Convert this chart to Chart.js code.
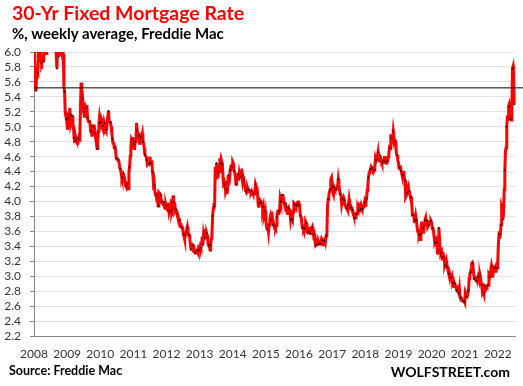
<!DOCTYPE html>
<html>
<head>
<meta charset="utf-8">
<script src="https://cdn.jsdelivr.net/npm/chart.js@4.4.0/dist/chart.umd.min.js"></script>
<style>
  html, body { margin: 0; padding: 0; background: #fff; }
  #wrap { position: relative; width: 523px; height: 386px; overflow: hidden; }
  #chart { position: absolute; left: 0; top: 0; }
  .txt { position: absolute; white-space: nowrap; font-family: Lato, "Liberation Sans", sans-serif; font-weight: bold; line-height: 1; }
  #title { left: 12px; top: 3px; font-size: 19.5px; color: #ff0000; }
  #sub { left: 12px; top: 26px; font-size: 15px; color: #000; }
  #src { left: 9px; top: 365px; font-size: 12.5px; color: #000; }
  #wolf { right: 13px; top: 365px; font-size: 14px; color: #000; }
</style>
</head>
<body>
<div id="wrap">
  <canvas id="chart" width="523" height="386"></canvas>
  <div class="txt" id="title">30-Yr Fixed Mortgage Rate</div>
  <div class="txt" id="sub">%, weekly average, Freddie Mac</div>
  <div class="txt" id="src">Source: Freddie Mac</div>
  <div class="txt" id="wolf">WOLFSTREET.com</div>
</div>
<script>
// weekly 30-yr fixed rate, %, one array per year
const years = [2008, 2009, 2010, 2011, 2012, 2013, 2014, 2015, 2016, 2017, 2018, 2019, 2020, 2021, 2022];

const r2008 = [6.07,5.87,5.69,5.48,5.68, 5.67,5.72,6.04,6.24, 6.03,6.13,5.87,5.85, 5.88,5.88,5.88,6.03, 6.06,6.01,5.98,6.08,6.09, 6.09,6.32,6.42,6.45, 6.35,6.37,6.26,6.63, 6.52,6.52,6.47,6.40, 6.35,5.93,5.78,6.09, 6.10,5.94,6.46,6.46,6.04, 6.00,6.14,6.04,5.97, 5.53,5.47,5.19,5.14,5.10];
const r2009 = [5.01,4.96,5.12,5.10, 5.25,5.16,5.04,5.07, 5.15,5.03,4.98,4.85, 4.78,4.87,4.82,4.80,4.78, 4.84,4.86,4.82,4.91, 5.29,5.59,5.38,5.42, 5.32,5.20,5.14,5.20,5.25, 5.22,5.29,5.12,5.08, 5.07,5.07,5.04,4.94, 4.94,4.87,4.92,5.00,5.03, 4.98,4.91,4.83,4.78, 4.71,4.81,4.94,5.05,5.14];
const r2010 = [5.09,5.06,4.99,4.98, 5.01,4.97,5.05,5.05, 4.97,4.95,4.96,5.08, 5.08,5.21,5.07,5.07,5.06, 5.00,4.93,4.84,4.78, 4.79,4.72,4.75,4.69, 4.58,4.57,4.57,4.56,4.54, 4.49,4.44,4.42,4.36, 4.32,4.35,4.37,4.37,4.32, 4.27,4.21,4.19,4.23, 4.24,4.17,4.39,4.46, 4.61,4.71,4.83,4.81,4.86];
const r2011 = [4.77,4.71,4.74,4.80, 4.81,5.05,4.95,4.95, 4.87,4.88,4.76,4.81,4.86, 4.87,4.91,4.80,4.78, 4.71,4.63,4.61,4.60, 4.55,4.49,4.50,4.50,4.51, 4.60,4.51,4.52,4.55, 4.39,4.32,4.15,4.22, 4.12,4.09,4.09,4.01,4.01, 3.94,4.12,4.11,4.10, 4.00,3.99,4.00,3.98, 3.98,3.99,3.94,3.91,3.95];
const r2012 = [3.91,3.89,3.88,3.98, 3.87,3.87,3.95,3.90, 3.88,3.92,4.08,3.99,3.98, 3.88,3.90,3.88,3.84, 3.83,3.79,3.78,3.75, 3.67,3.71,3.66,3.66, 3.62,3.56,3.53,3.49, 3.55,3.59,3.62,3.66,3.59, 3.55,3.55,3.49,3.40, 3.36,3.39,3.37,3.41, 3.40,3.34,3.31,3.32,3.32, 3.34,3.32,3.37,3.35];
const r2013 = [3.34,3.40,3.38,3.42,3.53, 3.42,3.56,3.51,3.52, 3.63,3.54,3.57,3.54, 3.43,3.41,3.40,3.35, 3.42,3.51,3.59,3.81,3.91, 3.98,3.93,4.46,4.29, 4.51,4.37,4.31,4.39, 4.40,4.58,4.51,4.57, 4.57,4.50,4.32,4.22, 4.23,4.28,4.13,4.16,4.10, 4.16,4.35,4.22,4.29, 4.42,4.47,4.48,4.46];
const r2014 = [4.53,4.51,4.41,4.39,4.32, 4.23,4.28,4.33,4.37, 4.28,4.37,4.32,4.40, 4.41,4.34,4.27,4.33, 4.29,4.21,4.20,4.14,4.12, 4.14,4.17,4.14,4.15, 4.15,4.13,4.12,4.14,4.12, 4.10,4.10,4.10,4.12, 4.23,4.20,4.19,4.12, 3.97,3.92,3.98,4.02, 4.01,3.99,3.97,3.89, 3.93,3.80,3.83,3.87];
const r2015 = [3.73,3.66,3.63,3.66, 3.59,3.69,3.76,3.80, 3.75,3.86,3.78,3.69, 3.70,3.66,3.67,3.65,3.68, 3.80,3.85,3.84,3.87, 3.87,4.04,4.00,4.02, 4.08,4.09,4.04,3.98,3.98, 3.91,3.93,3.93,3.84, 3.89,3.91,3.86,3.85, 3.76,3.82,3.79,3.76,3.87, 3.98,3.97,3.95,3.93, 3.95,3.97,4.01,3.96];
const r2016 = [3.97,3.92,3.81,3.79, 3.72,3.65,3.65,3.62, 3.64,3.68,3.73,3.71,3.59, 3.58,3.59,3.66,3.61, 3.57,3.58,3.64,3.66, 3.60,3.54,3.56,3.48, 3.41,3.42,3.45,3.48, 3.43,3.45,3.43,3.43, 3.46,3.50,3.48,3.42, 3.42,3.47,3.52,3.47, 3.54,3.57,3.94,4.03, 4.08,4.13,4.16,4.30,4.32];
const r2017 = [4.20,4.12,4.09,4.19, 4.17,4.15,4.16,4.16, 4.21,4.30,4.23,4.14, 4.10,4.08,3.97,4.03, 4.02,4.05,4.02,3.95, 3.94,3.91,3.90,3.88, 3.96,4.03,3.96,3.92, 3.93,3.90,3.89,3.86,3.82, 3.78,3.78,3.83,3.83, 3.85,3.91,3.88,3.94, 3.94,3.90,3.95,3.92, 3.90,3.93,3.94,3.99];
const r2018 = [3.95,3.99,4.04,4.15, 4.22,4.32,4.38,4.40,4.43, 4.46,4.44,4.45,4.44, 4.40,4.42,4.47,4.58, 4.55,4.55,4.61,4.66,4.56, 4.54,4.62,4.57,4.55, 4.52,4.53,4.52,4.54, 4.59,4.59,4.53,4.51,4.52, 4.54,4.60,4.65,4.72, 4.71,4.90,4.85,4.86, 4.83,4.94,4.94,4.81,4.81, 4.75,4.63,4.62,4.55];
const r2019 = [4.51,4.45,4.45,4.46, 4.41,4.37,4.35,4.35, 4.41,4.31,4.28,4.06, 4.08,4.12,4.17,4.20,4.14, 4.10,4.07,4.06,3.99, 3.82,3.82,3.84,3.73, 3.75,3.81,3.75,3.75, 3.60,3.60,3.55,3.58, 3.49,3.56,3.73,3.64, 3.65,3.57,3.69,3.75,3.78, 3.69,3.75,3.66,3.68, 3.68,3.73,3.73,3.74];
const r2020 = [3.72,3.64,3.65,3.60,3.51, 3.45,3.47,3.49,3.45, 3.29,3.36,3.65,3.50, 3.33,3.31,3.33,3.23, 3.26,3.28,3.24,3.15, 3.18,3.21,3.13,3.13, 3.07,3.03,3.01,2.98, 2.99,2.96,2.99,2.91, 2.93,2.86,2.90,2.88, 2.87,2.81,2.80,2.81, 2.78,2.84,2.72,2.72, 2.71,2.67,2.67,2.66,2.67];
const r2021 = [2.65,2.79,2.77,2.73, 2.73,2.73,2.81,2.97, 3.02,3.05,3.09,3.17, 3.18,3.13,3.04,2.97,2.98, 2.96,2.94,3.00,2.95, 2.99,2.96,2.93,3.02, 2.98,2.90,2.88,2.78,2.80, 2.77,2.87,2.86,2.87, 2.87,2.86,2.88,2.88,3.01, 2.99,3.05,3.09,3.14, 3.09,2.98,3.10,3.11, 3.10,3.12,3.05,3.11,3.11];
const r2022 = [3.22,3.45,3.56,3.55, 3.55,3.69,3.92,3.89, 3.76,3.85,4.16,4.42,4.67, 4.72,5.00,5.11,5.10, 5.27,5.30,5.25,5.10, 5.09,5.23,5.78,5.81,5.70, 5.30];

const yearlyRates = [r2008, r2009, r2010, r2011, r2012, r2013, r2014, r2015, r2016, r2017, r2018, r2019, r2020, r2021, r2022];

const refLevel = 5.52;      // horizontal marker line
const xMin = 2008, xMax = 2022.54;
const yMin = 2.2, yMax = 6.0, yStep = 0.2;
const partialYear = 2022;   // year still in progress: weeks counted out of 52

const points = [];
years.forEach((yr, k) => {
  const arr = yearlyRates[k];
  const n = yr === partialYear ? 52 : arr.length;
  arr.forEach((v, i) => points.push({ x: yr + i / n, y: v }));
});

const tickFont = { family: 'Lato, "Liberation Sans", sans-serif', size: 12 };

new Chart(document.getElementById('chart'), {
  type: 'line',
  data: {
    datasets: [
      {
        label: 'ref',
        data: [{ x: xMin, y: refLevel }, { x: 2023, y: refLevel }],
        borderColor: '#000',
        borderWidth: 1,
        pointRadius: 0,
        order: 0,
        clip: { left: 1, top: 0, right: 8, bottom: 0 }
      },
      {
        label: '30-Yr Fixed',
        data: points,
        borderColor: '#ff0000',
        borderWidth: 3,
        pointRadius: (c) => (c.dataIndex % 3 === 0 ? 1 : 0),
        pointBackgroundColor: '#4a0000',
        pointBorderWidth: 0,
        tension: 0,
        order: 1,
        clip: 0
      }
    ]
  },
  options: {
    responsive: false,
    animation: false,
    layout: { padding: { top: 52, right: 7, bottom: 0, left: 0 } },
    plugins: { legend: { display: false }, tooltip: { enabled: false } },
    scales: {
      x: {
        type: 'linear',
        min: xMin,
        max: xMax,
        afterFit: (s) => { s.height = 50; },
        grid: { display: false, drawTicks: false },
        border: { color: '#868686' },
        ticks: {
          stepSize: 1,
          includeBounds: false,
          autoSkip: false,
          maxRotation: 0,
          padding: 11,
          color: '#333',
          font: tickFont,
          callback: (v) => String(v)
        }
      },
      y: {
        min: yMin,
        max: yMax,
        afterFit: (s) => { s.width = 34; },
        grid: { color: '#e2e2ea', tickColor: '#868686', tickLength: 4 },
        border: { color: '#868686' },
        ticks: {
          stepSize: yStep,
          autoSkip: false,
          padding: 9,
          color: '#333',
          font: tickFont,
          callback: (v) => v.toFixed(1)
        }
      }
    }
  }
});
</script>
</body>
</html>
